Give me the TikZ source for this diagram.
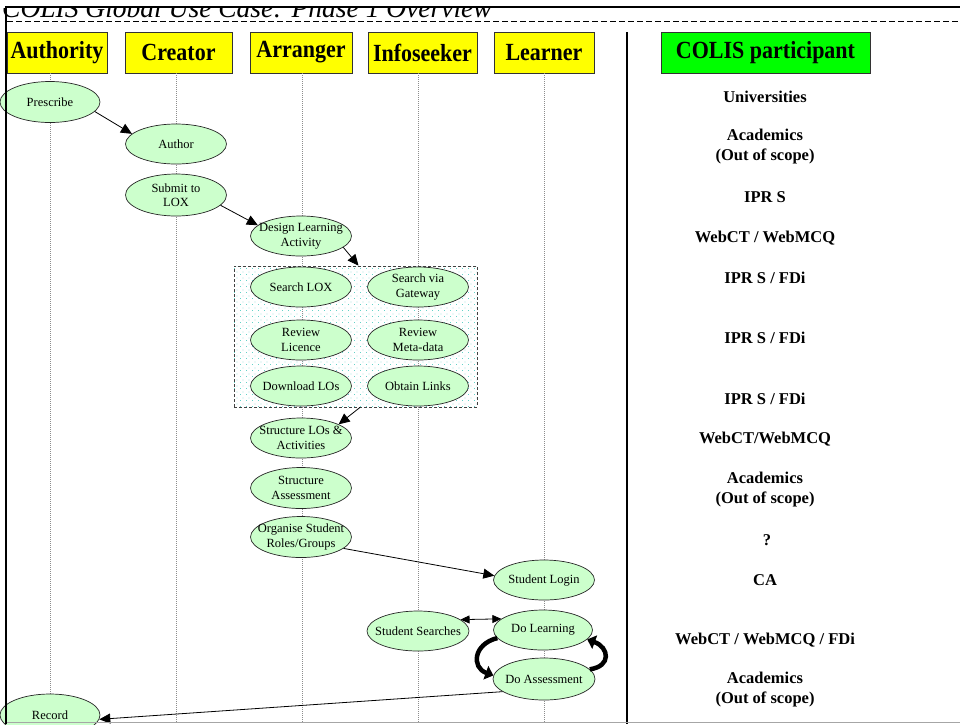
\documentclass[tikz,border=0pt]{standalone}
\usepackage{fontspec}
\usepackage{graphicx}
\setmainfont{Liberation Serif}
\usetikzlibrary{shapes.geometric,arrows.meta,patterns.meta,calc}
\definecolor{nodegreen}{RGB}{204,255,204}
\definecolor{hdryellow}{RGB}{255,255,0}
\definecolor{hdrgreen}{RGB}{0,255,0}
\definecolor{dotcol}{RGB}{100,210,200}
\newcommand{\tallhdr}[1]{\scalebox{1}[1.12]{#1}}
\tikzdeclarepattern{
  name=lodots,
  type=uncolored,
  bounding box={(0pt,0pt) and (6pt,6pt)},
  tile size={(6pt,6pt)},
  code={
    \pgfpathrectangle{\pgfpoint{0pt}{0pt}}{\pgfpoint{1pt}{1pt}}
    \pgfpathrectangle{\pgfpoint{3pt}{3pt}}{\pgfpoint{1pt}{1pt}}
    \pgfusepath{fill}
  }
}
\begin{document}
\begin{tikzpicture}[x=1pt,y=-1pt,
  hdr/.style={draw=black!80, line width=0.8pt, fill=hdryellow, minimum height=41pt, inner sep=0pt, font=\fontsize{22}{24}\selectfont\bfseries},
  uc/.style={ellipse, draw=black!85, line width=0.7pt, fill=nodegreen, minimum width=101pt, minimum height=40pt, inner xsep=-14pt, inner ysep=-4pt, align=center, font=\fontsize{12.5}{14.5}\selectfont},
  life/.style={draw=black!45, line width=0.7pt, dash pattern=on 1pt off 1pt},
  arr/.style={draw=black, line width=0.8pt, -{Triangle[length=11pt,width=10pt]}},
  dbl/.style={draw=black, line width=0.8pt, {Triangle[length=9pt,width=8pt]}-{Triangle[length=9pt,width=8pt]}},
  cyc/.style={draw=black, line width=4.5pt, -{Triangle[length=8pt,width=14pt]}},
  part/.style={font=\fontsize{16.5}{20}\selectfont\bfseries, align=center, inner sep=0pt},
  grpbox/.style={draw=black!75, line width=0.8pt, dash pattern=on 3pt off 2pt, pattern=lodots, pattern color=dotcol, minimum width=243pt, minimum height=141pt, inner sep=0pt},
]
\useasboundingbox (0,0) rectangle (960,724);
\clip (0,0) rectangle (960,724);
\fill[white] (0,0) rectangle (960,724);

% title (clipped by the frame top)
\begin{scope}
  \clip (0,8) rectangle (960,30);
  \node[anchor=base west, inner sep=0pt, font=\fontsize{27.5}{30}\selectfont\itshape] (title) at (2,17.5) {COLIS Global Use Case: Phase 1 Overview};
\end{scope}

% dashed rule
\draw[black, line width=0.8pt, dash pattern=on 6pt off 3pt] (7,21.5) -- (960,21.5);

% headers
\node[hdr, minimum width=100pt] (hA) at (57,52.5) {\tallhdr{Authority}};
\node[hdr, minimum width=107pt] (hC) at (178.5,52.5) {\tallhdr{Creator}};
\node[hdr, minimum width=102pt] (hR) at (301,52.5) {\tallhdr{Arranger}};
\node[hdr, minimum width=109pt] (hI) at (422.5,52.5) {\tallhdr{Infoseeker}};
\node[hdr, minimum width=100pt] (hL) at (544,52.5) {\tallhdr{Learner}};
\node[hdr, fill=hdrgreen, minimum width=209pt] (hP) at (765.5,52.5) {\tallhdr{COLIS participant}};

% lifelines
\draw[life] (50,73) -- (50,722);
\draw[life] (176,73) -- (176,722);
\draw[life] (302,73) -- (302,722);
\draw[life] (418,73) -- (418,722);
\draw[life] (544,73) -- (544,722);

% group box
\node[grpbox] (grp) at (355.5,336.5) {};

% use cases
\node[uc, minimum width=100pt, minimum height=41pt] (Pre) at (50,102) {Prescribe};
\node[uc] (Auth) at (176,144) {Author};
\node[uc, minimum height=42pt] (Sub) at (176,195) {Submit to\\LOX};
\node[uc] (Des) at (301,236) {Design Learning\\Activity};
\node[uc] (SLOX) at (301,287) {Search LOX};
\node[uc] (SGW) at (418,287) {Search via\\Gateway};
\node[uc] (RL) at (301,340) {Review\\Licence};
\node[uc] (RM) at (418,340) {Review\\Meta-data};
\node[uc] (DLO) at (301,386) {Download LOs};
\node[uc] (OL) at (418,386) {Obtain Links};
\node[uc] (SLA) at (301,438) {Structure LOs \&\\Activities};
\node[uc, minimum height=41pt] (SA) at (301,488) {Structure\\Assessment};
\node[uc, minimum height=41pt] (OS) at (301,537) {Organise Student\\Roles/Groups};
\node[uc] (SLog) at (544,580) {Student Login};
\node[uc, minimum width=102pt] (SS) at (418,631) {Student Searches};
\node[uc, minimum width=99pt] (DL) at (543,630) {Do Learning};
\node[uc, minimum width=102pt, minimum height=42pt] (DA) at (544,679) {Do Assessment};
\node[uc, minimum width=100pt, minimum height=42pt] (Rec) at (50,715) {Record};

% connectors
\draw[arr] (Pre.-12) -- (Auth.167);
\draw[arr] (Sub.-13) -- (Des.166);
\draw[arr] (Des.-15) -- ([xshift=3pt]grp.north);
\draw[arr] ([xshift=4.5pt]grp.south) -- (SLA.20);
\draw[arr] (OS.-15) -- (SLog.175);
\draw[dbl] (SS.15) -- (DL.165);
\draw[cyc] (DL.190) .. controls +(-24,6) and +(-22,-8) .. (DA.176);
\draw[cyc] (DA.12) .. controls +(22,-3) and +(22,8) .. (DL.-12);
\draw[arr] (DA.197) -- (Rec.-5);

% participant column
\node[part] (p1) at (765,97) {Universities};
\node[part] (p2) at (765,147) {Academics\\(Out of scope)};
\node[part] (p3) at (765,197) {IPR S};
\node[part] (p4) at (765,238) {WebCT / WebMCQ};
\node[part] (p5) at (765,278) {IPR S / FDi};
\node[part] (p6) at (765,338) {IPR S / FDi};
\node[part] (p7) at (765,399) {IPR S / FDi};
\node[part] (p8) at (765,439) {WebCT/WebMCQ};
\node[part] (p9) at (765,490) {Academics\\(Out of scope)};
\node[part] (p10) at (767,540) {?};
\node[part] (p11) at (765,580) {CA};
\node[part] (p12) at (765,640) {WebCT / WebMCQ / FDi};
\node[part] (p13) at (765,690) {Academics\\(Out of scope)};

% frame lines
\draw[black, line width=2.5pt] (5,7) -- (960,7);
\draw[black, line width=2.5pt] (6,7) -- (6,724);
\draw[black, line width=2pt] (627,32) -- (627,724);
\draw[black!35, line width=1pt] (7,722.5) -- (960,722.5);
\end{tikzpicture}
\end{document}
